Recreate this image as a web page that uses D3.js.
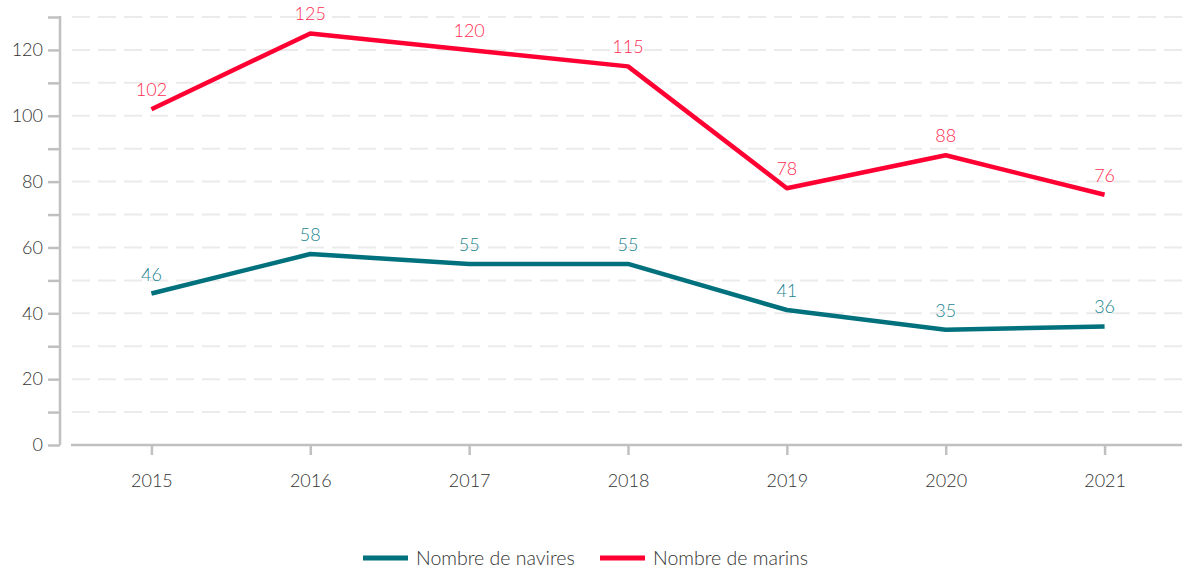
<!DOCTYPE html>
<html><head><meta charset="utf-8">
<script src="https://cdn.jsdelivr.net/npm/d3@7"></script>
<style>body{margin:0;background:#fff;} text{font-family:"Source Sans Pro",Lato,"Open Sans",sans-serif;font-weight:300;}</style>
</head><body>
<svg id="c" width="1182" height="571"></svg>
<script>
const years = ["2015","2016","2017","2018","2019","2020","2021"];
const navires = [46,58,55,55,41,35,36];
const marins = [102,125,120,115,78,88,76];
const yTicks = [0,20,40,60,80,100,120];
const seriesNames = ["Nombre de navires","Nombre de marins"];
const colors = ["#00717d","#ff0033"];
const labelColors = ["#1d8590","#ff2d52"];

const svg = d3.select("#c");
const x = d3.scalePoint().domain(years).range([72,1184]).padding(0.5);
const y = d3.scaleLinear().domain([0,130]).range([445,17]);

// grid
const minor = d3.range(10,131,10);
svg.append("g").selectAll("line").data(minor).join("line")
  .attr("x1",72).attr("x2",1182).attr("y1",d=>y(d)).attr("y2",d=>y(d))
  .attr("stroke","#ebebeb").attr("stroke-width",2).attr("stroke-dasharray","18,8");

// y axis
const ya = svg.append("g").attr("transform","translate(60,0)")
  .call(d3.axisLeft(y).tickValues(d3.range(0,131,10)).tickSize(12).tickFormat(d=>yTicks.includes(d)?d:""));
ya.select(".domain").attr("stroke","#c0c0c0").attr("stroke-width",2.5).attr("d","M0,16V445");
ya.selectAll(".tick line").attr("stroke","#c0c0c0").attr("stroke-width",2.5);
ya.selectAll(".tick text").attr("fill","#333").attr("font-size",18).attr("x",-17);

// x axis
const xa = svg.append("g").attr("transform","translate(0,445)")
  .call(d3.axisBottom(x).tickSize(10).tickSizeOuter(0));
xa.select(".domain").attr("stroke","#c0c0c0").attr("stroke-width",2.5).attr("d","M71,0H1182");
xa.selectAll(".tick line").attr("stroke","#c0c0c0").attr("stroke-width",2.5);
xa.selectAll(".tick text").attr("fill","#333").attr("font-size",18).attr("dy","1.6em");

const data = [navires, marins];
const line = d3.line().x((d,i)=>x(years[i])).y(d=>y(d));
data.forEach((s,k)=>{
  svg.append("path").datum(s).attr("d",line).attr("fill","none")
    .attr("stroke",colors[k]).attr("stroke-width",4.5).attr("stroke-linejoin","round");
  svg.append("g").selectAll("text").data(s).join("text")
    .attr("x",(d,i)=>x(years[i])).attr("y",d=>y(d)-13)
    .attr("text-anchor","middle").attr("font-size",18).attr("fill",labelColors[k]).text(d=>d);
});

// legend
const lx = [363,600];
seriesNames.forEach((n,k)=>{
  svg.append("line").attr("x1",lx[k]).attr("x2",lx[k]+45).attr("y1",558).attr("y2",558)
    .attr("stroke",colors[k]).attr("stroke-width",5);
  svg.append("text").attr("x",lx[k]+53).attr("y",565).attr("font-size",19.5).attr("fill","#333").text(n);
});
</script>
</body></html>
